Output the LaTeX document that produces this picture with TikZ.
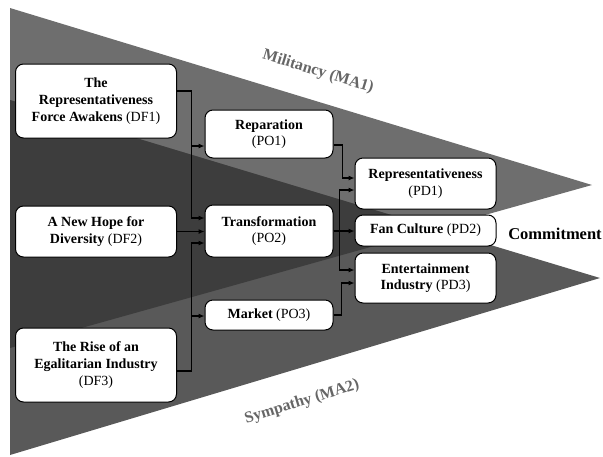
\documentclass[tikz,border=0pt]{standalone}
\usepackage{fontspec}
\setmainfont{Liberation Serif}
\usetikzlibrary{arrows.meta}

\begin{document}
\begin{tikzpicture}[x=1pt,y=-1pt,
  box/.style={draw,fill=white,rounded corners=8pt,line width=1pt,align=center,
    inner sep=2pt,font=\fontsize{14}{16.7}\selectfont},
  link/.style={line width=1.1pt,-{Latex[length=6pt,width=5pt]}},
  attitude/.style={font=\fontsize{16}{18}\selectfont\bfseries,text=black!60}]
\useasboundingbox (0,0) rectangle (603,456);
% the two triangles and their overlap
\fill[black!57] (10,8) -- (592,185) -- (10,348) -- cycle;
\fill[black!65] (10,100) -- (600,278) -- (10,455) -- cycle;
\begin{scope}
\clip (10,8) -- (592,185) -- (10,348) -- cycle;
\fill[black!76] (10,100) -- (600,278) -- (10,455) -- cycle;
\end{scope}
\node[attitude,rotate=-17] (MA1) at (318,72) {Militancy (MA1)};
\node[attitude,rotate=17] (MA2) at (302,402) {Sympathy (MA2)};
\node[font=\fontsize{16.5}{18}\selectfont\bfseries] (PD) at (555,234) {Commitment};
% boxes
\node[box,minimum width=161pt,minimum height=74pt] (DF1) at (96,101)
  {\textbf{The}\\\textbf{Representativeness}\\\textbf{Force Awakens} (DF1)};
\node[box,minimum width=161pt,minimum height=51pt] (DF2) at (96,231.5)
  {\textbf{A New Hope for}\\\textbf{Diversity} (DF2)};
\node[box,minimum width=161pt,minimum height=74pt] (DF3) at (96,365)
  {\textbf{The Rise of an}\\\textbf{Egalitarian Industry}\\(DF3)};
\node[box,minimum width=128pt,minimum height=48pt] (PO1) at (269,134)
  {\textbf{Reparation}\\(PO1)};
\node[box,minimum width=128pt,minimum height=52pt] (PO2) at (269,231)
  {\textbf{Transformation}\\(PO2)};
\node[box,minimum width=128pt,minimum height=30pt] (PO3) at (269,315)
  {\textbf{Market} (PO3)};
\node[box,minimum width=141pt,minimum height=51pt] (PD1) at (425.5,183.5)
  {\textbf{Representativeness}\\(PD1)};
\node[box,minimum width=141pt,minimum height=31pt] (PD2) at (425.5,230.5)
  {\textbf{Fan Culture} (PD2)};
\node[box,minimum width=141pt,minimum height=50pt] (PD3) at (425.5,278)
  {\textbf{Entertainment}\\\textbf{Industry} (PD3)};
% left connectors
\draw[link] ([yshift=10pt]DF1.east) -| ([xshift=-13pt,yshift=-12pt]PO1.west) -- ([yshift=-12pt]PO1.west);
\draw[link] ([yshift=10pt]DF1.east) -| ([xshift=-13pt,yshift=13pt]PO2.west) -- ([yshift=13pt]PO2.west);
\draw[link] (DF2.east) -- (DF2.east -| PO2.west);
\draw[link] ([yshift=-6pt]DF3.east) -| ([xshift=-13pt,yshift=-12pt]PO2.west) -- ([yshift=-12pt]PO2.west);
\draw[link] ([yshift=-6pt]DF3.east) -| ([xshift=-13pt,yshift=-1pt]PO3.west) -- ([yshift=-1pt]PO3.west);
% right connectors
\draw[link] ([yshift=-11pt]PO1.east) -| ([xshift=-12pt,yshift=5.5pt]PD1.west) -- ([yshift=5.5pt]PD1.west);
\draw[link] (PO2.east) -| ([xshift=-15pt,yshift=-6.5pt]PD1.west) -- ([yshift=-6.5pt]PD1.west);
\draw[link] (PO2.east) -- (PO2.east -| PD2.west);
\draw[link] (PO2.east) -| ([xshift=-15pt,yshift=8pt]PD3.west) -- ([yshift=8pt]PD3.west);
\draw[link] (PO3.east) -| ([xshift=-13pt,yshift=-5pt]PD3.west) -- ([yshift=-5pt]PD3.west);
\end{tikzpicture}
\end{document}
